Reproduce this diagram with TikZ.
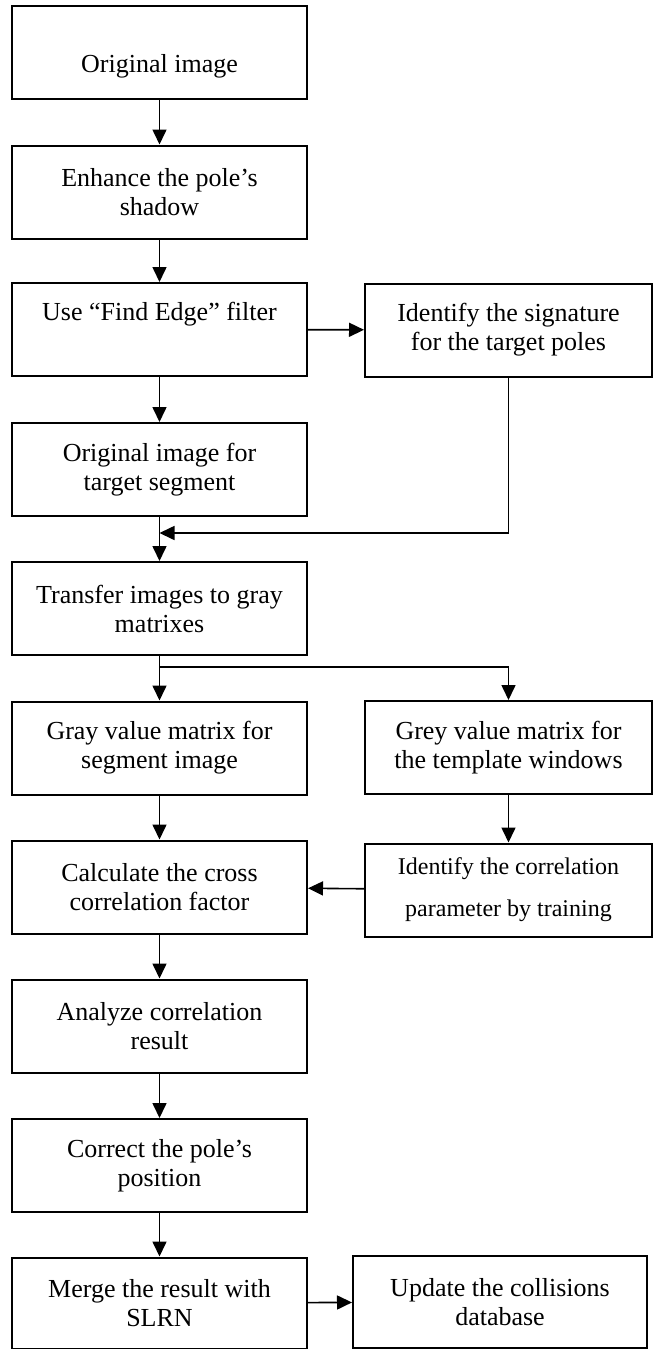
\documentclass[tikz,border=0pt]{standalone}
\usepackage{fontspec}
\setmainfont{Liberation Serif}
\usetikzlibrary{arrows.meta}
\tikzset{stepbox/.style={draw, line width=2pt, minimum height=93pt, align=center,
    font=\fontsize{26pt}{29pt}\selectfont, inner sep=0pt}}
\tikzset{lbox/.style={stepbox, minimum width=295pt}}
\tikzset{rbox/.style={stepbox, minimum width=287pt}}
\tikzset{flow/.style={line width=1.6pt, -{Triangle[length=15pt,width=14pt]}}}

\begin{document}
\begin{tikzpicture}[x=1pt, y=-1pt]
        \useasboundingbox (0,0) rectangle (654,1349);

        % main column
        \node[lbox] (orig) at (159.5,52.5) {\strut\\\strut Original image};
        \node[lbox] (enh) at (159.5,192) {Enhance the pole’s\\shadow};
        \node[lbox] (edge) at (159.5,329.5) {\strut Use “Find Edge” filter\\\strut};
        \node[lbox] (seg) at (159.5,469.5) {Original image for\\target segment};
        \node[lbox] (trans) at (159.5,608.5) {Transfer images to gray\\matrixes};
        \node[lbox] (gray) at (159.5,748) {Gray value matrix for\\segment image};
        \node[lbox] (calc) at (159.5,887) {Calculate the cross\\correlation factor};
        \node[lbox] (anal) at (159.5,1026) {Analyze correlation\\result};
        \node[lbox] (corr) at (159.5,1165.5) {Correct the pole’s\\position};
        \node[lbox, minimum height=91pt] (merge) at (159.5,1303) {Merge the result with\\SLRN};

        % side column
        \node[rbox] (sig) at (508.5,330) {Identify the signature\\for the target poles};
        \node[rbox] (grey) at (508.5,747.5) {Grey value matrix for\\the template windows};
        \node[rbox, font=\fontsize{24pt}{42pt}\selectfont] (param) at (508.5,890) {Identify the correlation\\parameter by training};
        \node[stepbox, minimum width=294pt, minimum height=92pt] (upd) at (500,1302) {Update the collisions\\database};

        \coordinate (join) at (159.5,533);
        \coordinate (split) at (159.5,667);

        \draw[flow] (orig) -- (enh);
        \draw[flow] (enh) -- (edge);
        \draw[flow] (edge) -- (sig);
        \draw[flow] (edge) -- (seg);
        \draw[flow] (sig.south) |- (join);
        \draw[flow] (seg) -- (trans);
        \draw[flow] (trans) -- (gray);
        \draw[flow] (split) -| (grey);
        \draw[flow] (grey) -- (param);
        \draw[flow] (param) -- (calc);
        \draw[flow] (gray) -- (calc);
        \draw[flow] (calc) -- (anal);
        \draw[flow] (anal) -- (corr);
        \draw[flow] (corr) -- (merge);
        \draw[flow] (merge) -- (upd);
    \end{tikzpicture}
\end{document}
